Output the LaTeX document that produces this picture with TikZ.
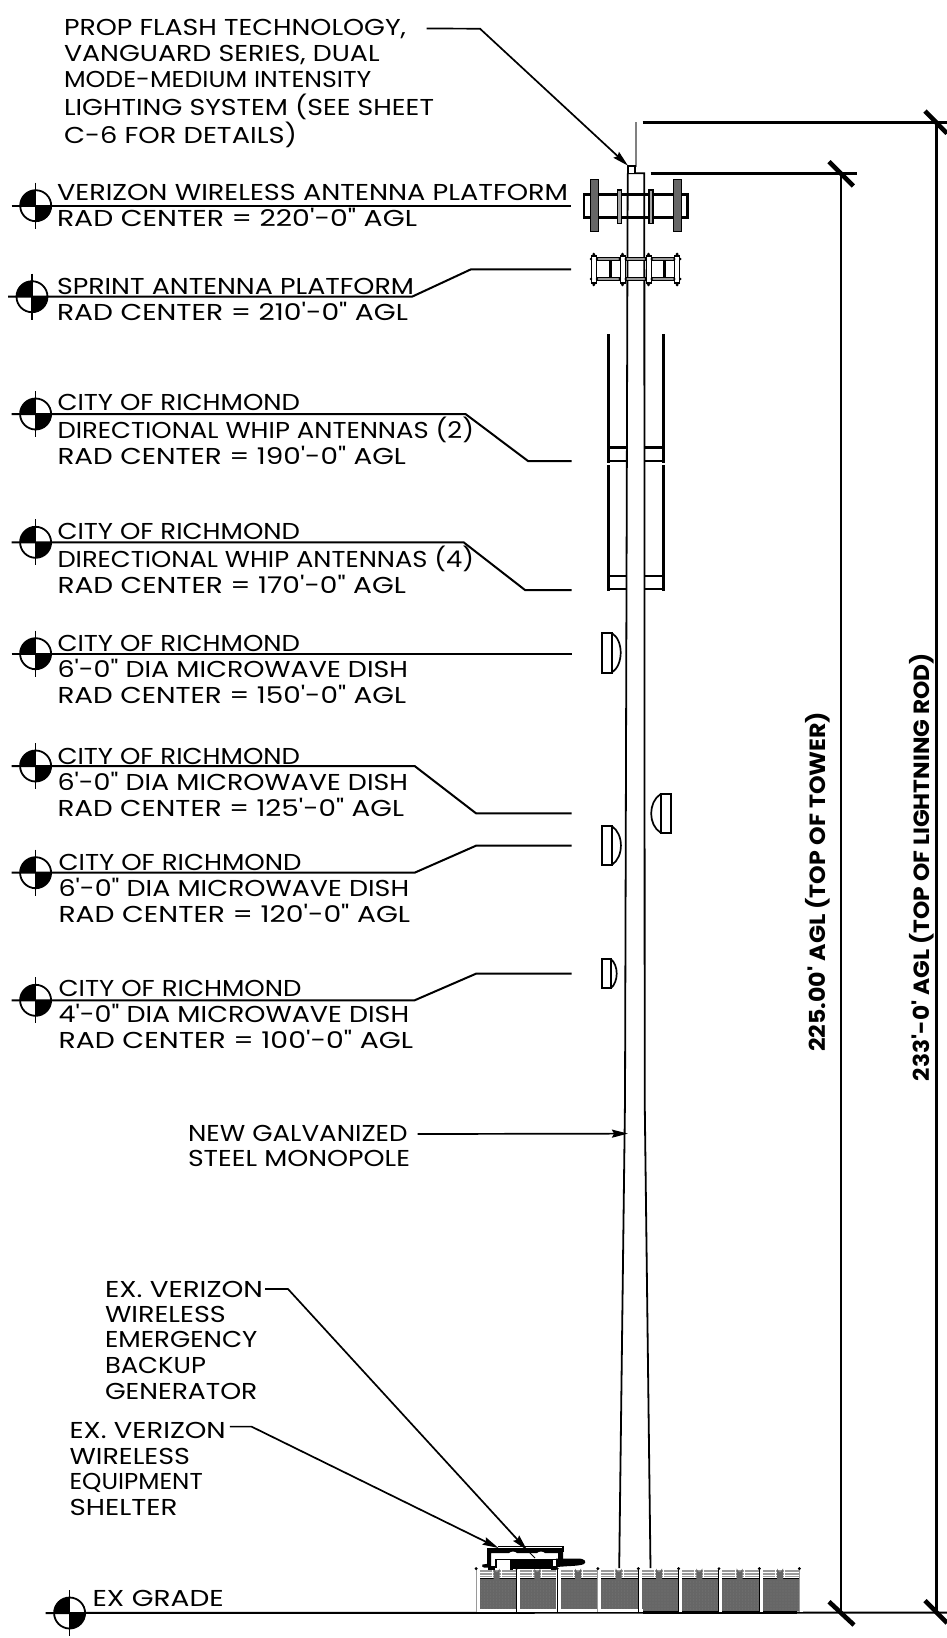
\documentclass[tikz,border=0pt]{standalone}
\usepackage{fontspec}
\usepackage{graphicx}
\usetikzlibrary{arrows.meta}
\newfontfamily\cad{Poppins}
\definecolor{panelgray}{HTML}{666666}
\definecolor{railgray}{HTML}{9A9A9A}
\definecolor{dotgray}{HTML}{8C8C8C}
\tikzset{
  lbl/.style={font=\cad\fontsize{23}{23}\selectfont,inner sep=0pt,outer sep=0pt,anchor=base west,text height=16pt,text depth=0pt},
  target/.style={circle,draw,line width=1.8pt,minimum size=31pt,inner sep=0pt,outer sep=0pt,
    path picture={\fill (path picture bounding box.center) rectangle (path picture bounding box.north west);
                  \fill (path picture bounding box.center) rectangle (path picture bounding box.south east);}},
  lead/.style={line width=1.7pt,line join=miter},
  under/.style={line width=2pt,line join=miter},
  headed/.style={-{Stealth[length=16pt,width=8pt,inset=2pt]}},
  dimline/.style={line width=2.6pt},
  dimtick/.style={line width=4.6pt},
  pole/.style={line width=1.8pt,line join=miter},
  whip/.style={line width=3pt},
  bar/.style={line width=2.4pt},
  dish/.style={line width=1.7pt},
  postline/.style={line width=1.1pt},
}
\newcommand\lab[5]{\node[lbl] (#1) at (#2,#3) {\resizebox{#4pt}{\height}{#5}};}
\newcommand\tmark[3]{\node[target] (#1) at (#2,#3) {};
  \draw[line width=1.4pt] ([yshift=23pt]#1.center) -- ([yshift=-23pt]#1.center);}
\begin{document}
\begin{tikzpicture}[x=1pt,y=-1pt]
\useasboundingbox (0,0) rectangle (947,1638);
\fill[white] (0,0) rectangle (947,1638);

% ---------- labels
\lab{pa}{64}{35.7}{342}{PROP FLASH TECHNOLOGY,}
\lab{pb}{64}{61.7}{315.6}{VANGUARD SERIES, DUAL}
\lab{pc}{64}{87.3}{307.4}{MODE-MEDIUM INTENSITY}
\lab{pd}{64}{115}{370}{LIGHTING SYSTEM (SEE SHEET}
\lab{pe}{64}{143}{233}{C-6 FOR DETAILS)}

\lab{va}{57}{200}{511}{VERIZON WIRELESS ANTENNA PLATFORM}
\lab{vb}{57}{226.7}{360}{RAD CENTER = 220'-0" AGL}
\lab{sa}{57}{294}{357}{SPRINT ANTENNA PLATFORM}
\lab{sb}{57}{320}{351}{RAD CENTER = 210'-0" AGL}

\lab{ca}{57.5}{410}{242.5}{CITY OF RICHMOND}
\lab{cb}{57.5}{438.3}{416.5}{DIRECTIONAL WHIP ANTENNAS (2)}
\lab{cc}{57.5}{464}{348.5}{RAD CENTER = 190'-0" AGL}
\lab{da}{57.5}{539}{242.5}{CITY OF RICHMOND}
\lab{db}{57.5}{567}{416.5}{DIRECTIONAL WHIP ANTENNAS (4)}
\lab{dc}{57.5}{593}{348.5}{RAD CENTER = 170'-0" AGL}
\lab{ea}{57.5}{651.7}{242.5}{CITY OF RICHMOND}
\lab{eb}{57.5}{677.7}{350.5}{6'-0" DIA MICROWAVE DISH}
\lab{ec}{57.5}{703.7}{348.5}{RAD CENTER = 150'-0" AGL}
\lab{fa}{57.5}{764}{242.5}{CITY OF RICHMOND}
\lab{fb}{57.5}{790.7}{350.5}{6'-0" DIA MICROWAVE DISH}
\lab{fc}{57.5}{816.7}{346.5}{RAD CENTER = 125'-0" AGL}
\lab{ga}{58.6}{870}{243}{CITY OF RICHMOND}
\lab{gb}{58.6}{896.7}{350.5}{6'-0" DIA MICROWAVE DISH}
\lab{gc}{58.6}{922.7}{351.5}{RAD CENTER = 120'-0" AGL}
\lab{ha}{58.6}{996}{243}{CITY OF RICHMOND}
\lab{hb}{58.6}{1022.3}{350.5}{4'-0" DIA MICROWAVE DISH}
\lab{hc}{58.6}{1048.3}{354.5}{RAD CENTER = 100'-0" AGL}

\lab{na}{188}{1141}{219.6}{NEW GALVANIZED}
\lab{nb}{188}{1166}{222}{STEEL MONOPOLE}

\lab{ia}{105}{1297}{158}{EX. VERIZON}
\lab{ib}{105}{1322.5}{120.8}{WIRELESS}
\lab{ic}{105}{1347.7}{152.4}{EMERGENCY}
\lab{id}{105}{1373.8}{101}{BACKUP}
\lab{ie}{105}{1399}{152.4}{GENERATOR}

\lab{ja}{69.6}{1438.6}{156.2}{EX. VERIZON}
\lab{jb}{69.6}{1464}{120.4}{WIRELESS}
\lab{jc}{69.6}{1489.7}{133.2}{EQUIPMENT}
\lab{jd}{69.6}{1515}{107.9}{SHELTER}

\lab{gr}{92.6}{1606}{131.2}{EX GRADE}

\node[lbl,rotate=90,font=\cad\bfseries\fontsize{22}{22}\selectfont] (dima) at (825.7,1051.7) {\resizebox{340pt}{\height}{225.00' AGL (TOP OF TOWER)}};
\node[lbl,rotate=90,font=\cad\bfseries\fontsize{22}{22}\selectfont] (dimb) at (929,1081) {\resizebox{428pt}{\height}{233'-0' AGL (TOP OF LIGHTNING ROD)}};

% ---------- free ends
\coordinate (p1) at (480,28.7);
\coordinate (p2) at (628,165.7);
\coordinate (v1) at (571,205.7);
\coordinate (s1) at (412,296.7);
\coordinate (s2) at (471,269.3);
\coordinate (s3) at (571,269.3);
\coordinate (c1) at (465.5,414);
\coordinate (c2) at (528,461);
\coordinate (c3) at (571.6,461);
\coordinate (d1) at (463.6,542.3);
\coordinate (d2) at (525,590);
\coordinate (d3) at (571.6,590);
\coordinate (e1) at (571.6,653.7);
\coordinate (f1) at (414.6,766);
\coordinate (f2) at (476,813.3);
\coordinate (f3) at (571.6,813.3);
\coordinate (g1) at (414.6,872.7);
\coordinate (g2) at (476,845.7);
\coordinate (g3) at (571.6,845.7);
\coordinate (h1) at (414.6,1000.3);
\coordinate (h2) at (476,973.7);
\coordinate (h3) at (571.6,973.7);
\coordinate (n1) at (628,1133.6);
\coordinate (i1) at (288,1289);
\coordinate (i2) at (527,1550);
\coordinate (i3) at (535,1558);
\coordinate (j1) at (251.5,1426.6);
\coordinate (j2) at (498.5,1548);
\coordinate (grnd) at (947,1612.5);

% ---------- markers
\tmark{tv}{35.7}{205.7}
\tmark{ts}{32}{296.7}
\tmark{tc}{35.6}{414}
\tmark{td}{35.6}{542.3}
\tmark{te}{35.6}{653.7}
\tmark{tf}{35.6}{766}
\tmark{tg}{35.6}{872.7}
\tmark{th}{35.6}{1000.3}
\tmark{tx}{69.6}{1613}

% ---------- leaders
\draw[lead,headed] ([xshift=20.5pt,yshift=-0.8pt]pa.east) -- (p1) -- (p2);
\draw[under] ([xshift=-24pt]tv.center) -- (v1);
\draw[under] ([xshift=-24pt]ts.center) -- (s1) -- (s2) -- (s3);
\draw[under] ([xshift=-24pt]tc.center) -- (c1) -- (c2) -- (c3);
\draw[under] ([xshift=-24pt]td.center) -- (d1) -- (d2) -- (d3);
\draw[under] ([xshift=-24pt]te.center) -- (e1);
\draw[under] ([xshift=-24pt]tf.center) -- (f1) -- (f2) -- (f3);
\draw[under] ([xshift=-24pt]tg.center) -- (g1) -- (g2) -- (g3);
\draw[under] ([xshift=-24pt]th.center) -- (h1) -- (h2) -- (h3);
\draw[lead,headed] ([xshift=10pt,yshift=-1pt]na.east) -- (n1);

% ---------- monopole
\draw[pole] (627.7,173.3) -- (625,1100) -- (619.2,1568);
\draw[pole] (627.7,173.3) -- (644.3,173.3) -- (644.7,1100) -- (650.5,1568);
\draw[line width=1.5pt,gray] (636,122) -- (636,167);
\draw[line width=1.3pt,fill=white] (628,166) rectangle (635,173.3);

% ---------- Verizon platform
\draw[line width=2.6pt] (584,194.3) rectangle (687.7,217.7);
\foreach \x in {590.7,673.7}{\draw[line width=1.2pt,fill=panelgray] (\x,179.3) rectangle ++(8,52.4);}
\foreach \x in {617.7,649}{\draw[line width=1.5pt,fill=panelgray!60] (\x,190) rectangle ++(4,33.3);}

% ---------- Sprint platform
\foreach \y in {259,279}{
  \draw[line width=3.6pt] (594,\y) -- (677.3,\y);
  \draw[line width=1.2pt,railgray] (594,\y) -- (677.3,\y);}
\foreach \x in {610.7,664}{\draw[line width=3pt] (\x,261) -- (\x,276.7);}
\foreach \x in {594,622.7,648.7,677.3}{
  \draw[line width=1.3pt,fill=white] (\x-2.5,256) rectangle (\x+2.5,283);
  \fill (\x-0.2,254.2) circle (1.6pt);
  \fill (\x-0.2,284.8) circle (1.6pt);
  \fill (\x-3,259) circle (1.3pt); \fill (\x+3,259) circle (1.3pt);
  \fill (\x-3,279) circle (1.3pt); \fill (\x+3,279) circle (1.3pt);}

% ---------- whips
\foreach \x in {608,663.7}{
  \draw[whip] (\x,334) -- (\x,462.7);
  \draw[whip] (\x,465) -- (\x,590.7);}
\foreach \y in {447.3,460.7,575.7,588.7}{
  \draw[bar] (608,\y) -- (627,\y);
  \draw[bar] (645,\y) -- (663.7,\y);}

% ---------- dishes
\draw[dish] (601.7,633) rectangle (611.7,672.7);
\draw[dish] (611.7,633) .. controls (623.7,640) and (623.7,665) .. (611.7,672.7);
\draw[dish] (660.7,794) rectangle (670.7,832.7);
\draw[dish] (660.7,794) .. controls (648,802) and (648,825) .. (660.7,832.7);
\draw[dish] (601.7,826) rectangle (611.7,865);
\draw[dish] (611.7,826) .. controls (624,834) and (624,857) .. (611.7,865);
\draw[dish] (601.7,959) rectangle (610.7,988.3);
\draw[dish] (610.7,959) .. controls (618.7,965) and (618.7,982) .. (610.7,988.3);

% ---------- dimensions
\draw[dimline] (642.7,122.3) -- (947,122.3);
\draw[dimline] (650.7,173.3) -- (857,173.3);
\draw[dimline] (841,173.3) -- (841,1612.5);
\draw[dimline] (936.7,122.3) -- (936.7,1612.5);
\draw[dimtick] (925,111) -- (947,133.5);
\draw[dimtick] (829,161.7) -- (853.3,186);
\draw[dimtick] (829,1601.7) -- (854,1625);
\draw[dimtick] (925,1600.5) -- (947,1623);

% ---------- grade
\draw[line width=2pt] ([xshift=-24pt]tx.center) -- (grnd);
\draw[line width=3.4pt] (643,1611.8) -- (797,1611.8);

% ---------- fence
\foreach \x in {475.7,516.3,557,597.7,638,678.3,718.7,759}{
  \fill[panelgray] (\x+3.5,1579) rectangle (\x+40,1611);
  \foreach \dy in {3,6,...,30}{\foreach \dx in {6,9,...,39}{\fill[dotgray] (\x+\dx,1579+\dy) circle (0.4pt);}}
  \draw[line width=0.8pt] (\x+3.5,1578.6) -- (\x+40,1578.6);
  \foreach \y in {1570.8,1573.8,1576.6}{\draw[line width=1.5pt,railgray] (\x+1,\y) -- (\x+40,\y);}
  \fill[panelgray] (\x+18,1568.5) -- (\x+20,1571.5) -- (\x+22,1571.5) -- (\x+24,1568.5) -- (\x+24,1579) -- (\x+18,1579) -- cycle;
  \draw[line width=0.9pt,white] (\x+16.5,1569) -- (\x+16.5,1578);
  \draw[line width=0.9pt,white] (\x+25.5,1569) -- (\x+25.5,1578);
}
\draw[white,line width=2.4pt] (477,1610.4) -- (643,1610.4);
\foreach \x/\c in {477.2/railgray,517.5/black,558.2/black,598.9/railgray,639.3/black,679.6/black,720/black,760.3/black,800.4/railgray}{
  \fill[white] (\x-0.9,1568.5) rectangle (\x+2.3,1612);
  \draw[postline,\c] (\x-1.1,1568.5) -- (\x-1.1,1612);
  \fill (\x-1,1568.6) circle (1.6pt);
}

% ---------- shelter and generator
\fill (487,1548) -- (563,1548) -- (563,1561) -- (558,1564) -- (558,1553) -- (545,1553) .. controls (543,1551) and (539,1551) .. (537,1553) -- (517,1553) .. controls (515,1551) and (511,1551) .. (509,1553) -- (491,1553) -- (491,1566) -- (487,1566) -- cycle;
\draw[line width=1.2pt] (498,1546.5) -- (563,1546.5) -- (563,1552);
\draw[line width=1.8pt] (496,1568) -- (496,1559.5) -- (556.5,1559.5) -- (556.5,1568);
\fill (513,1560) -- (553,1560) -- (553,1569) -- (513,1569) -- cycle;
\fill (556,1558.5) -- (578,1558.5) .. controls (585,1558.5) and (587,1562) .. (584,1564) .. controls (580,1566) and (568,1566) .. (563,1566.5) -- (556,1567) -- cycle;
\fill (482.5,1564.5) -- (490,1563.5) -- (490,1567.5) -- (484,1567.5) .. controls (482,1567.5) and (481.5,1565.5) .. (482.5,1564.5) -- cycle;
\fill (510,1560) rectangle (512.6,1570);
\fill (488,1566) rectangle (495,1570);
\fill (551,1566) rectangle (556,1570);

% ---------- leaders that end on the shelter
\draw[lead,headed] ([xshift=2pt]ia.east) -- (i1) -- (i2);
\draw[line width=1pt] (i2) -- (i3);
\draw[lead,headed] ([xshift=4pt,yshift=4pt]ja.east) -- (j1) -- (j2);
\end{tikzpicture}
\end{document}
